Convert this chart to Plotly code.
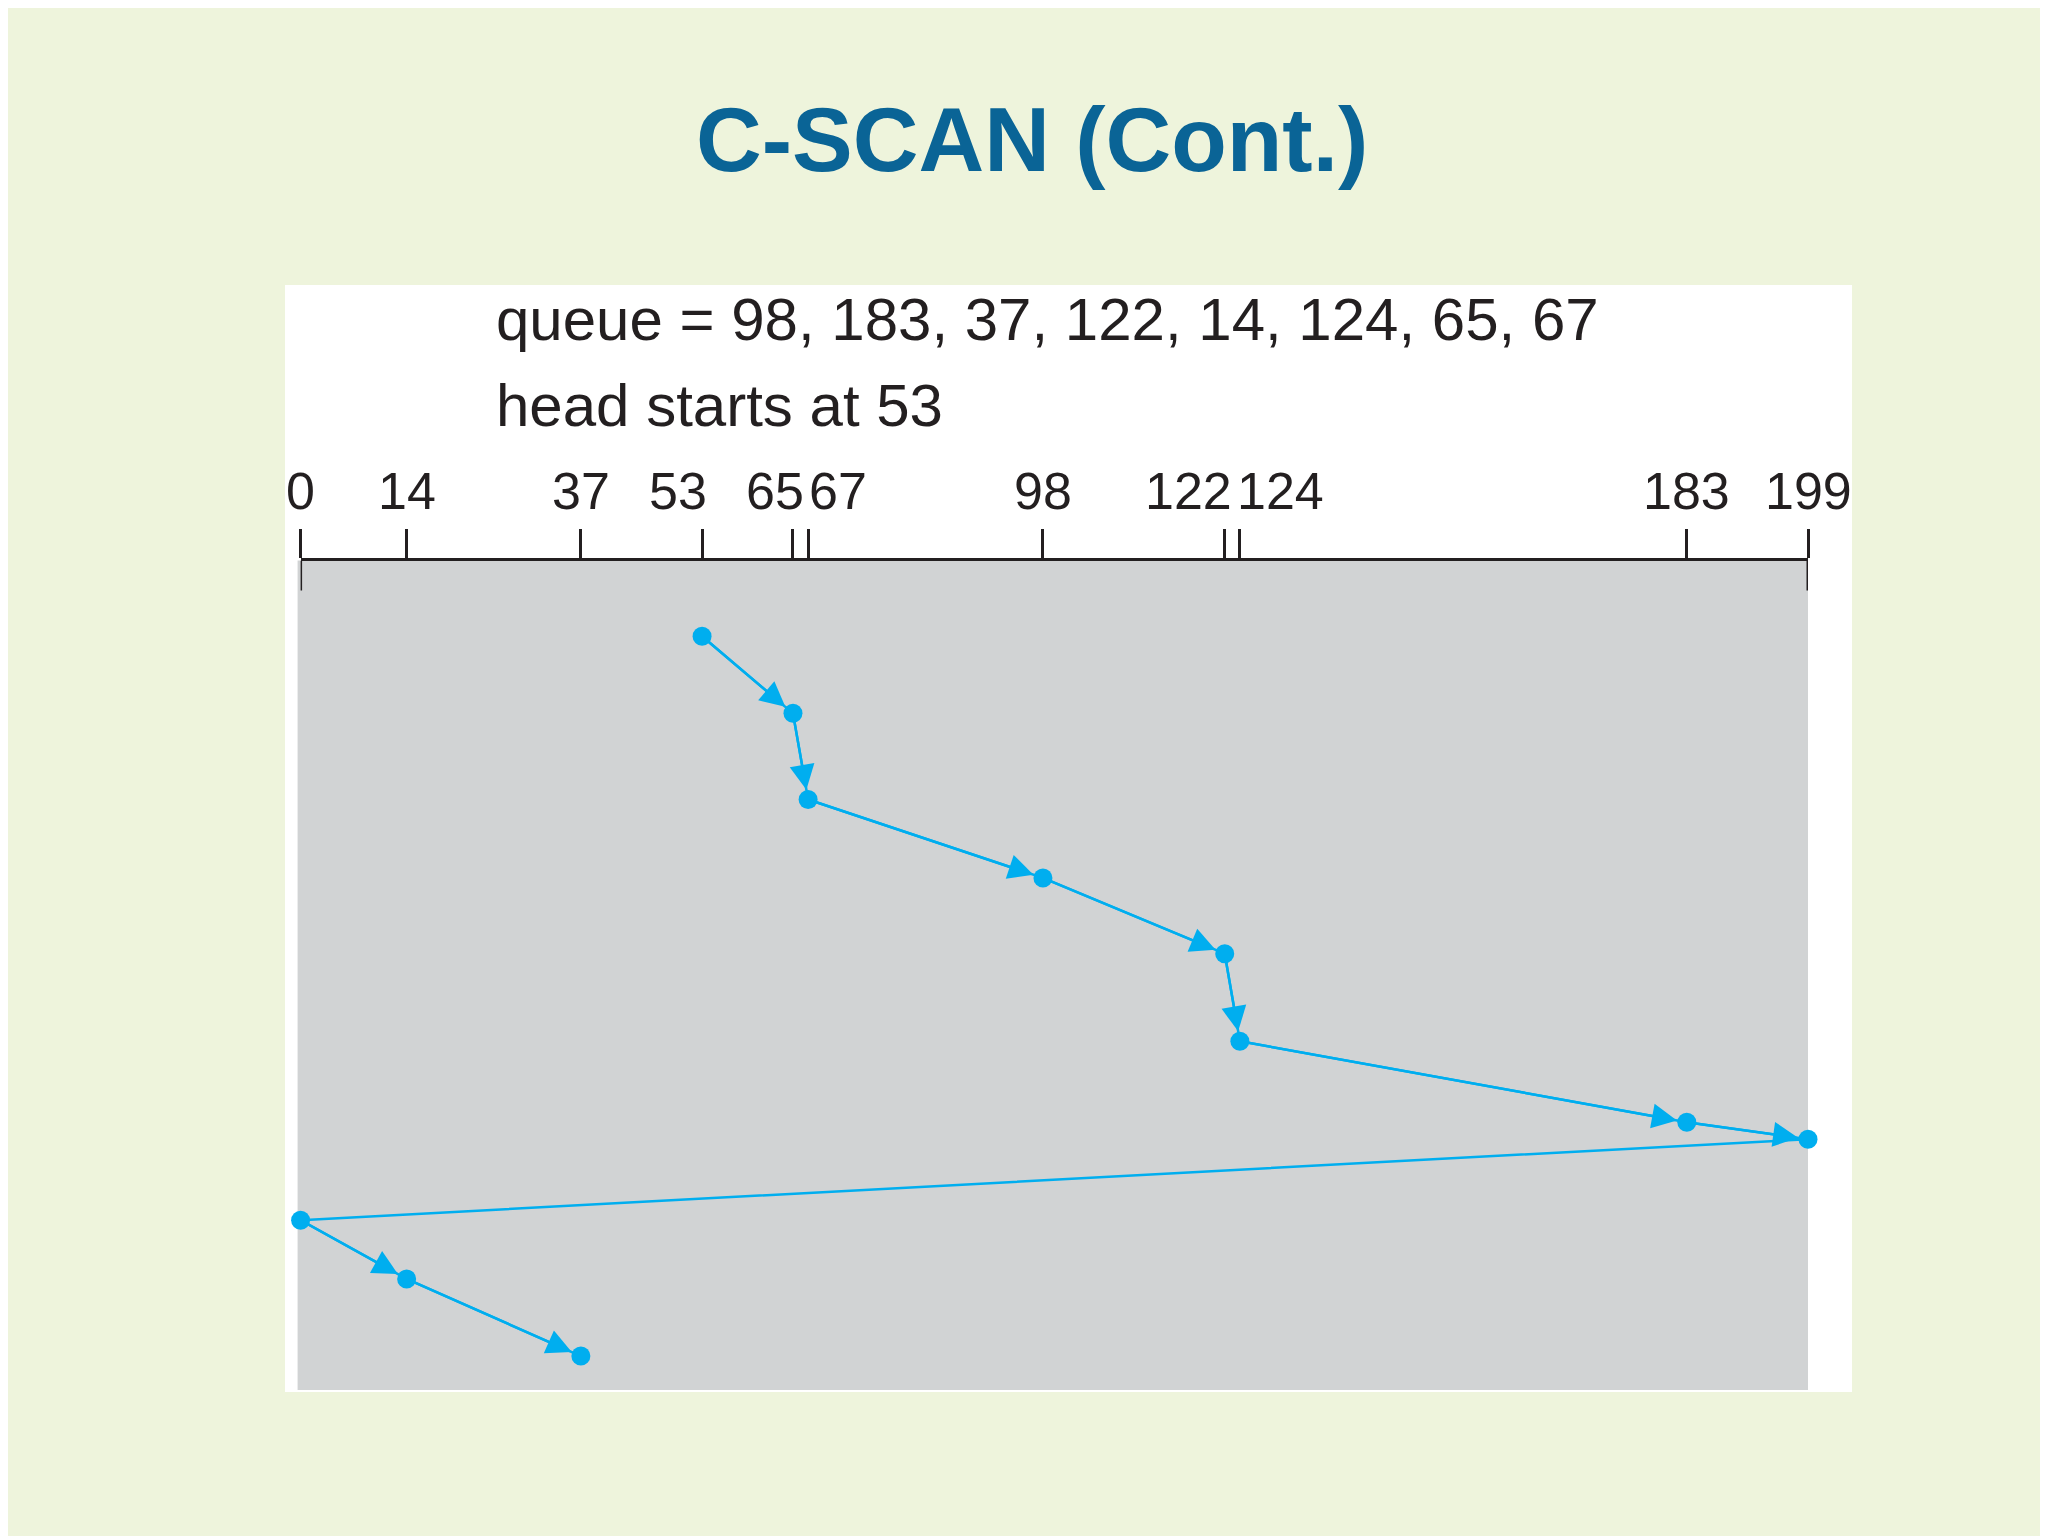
import plotly.graph_objects as go

cylinders = [53, 65, 67, 98, 122, 124, 183, 199, 0, 14, 37]
step_level = [481, 540, 606, 666, 724, 791, 853, 866, 928, 973, 1032]
tick_vals = [0, 14, 37, 53, 65, 67, 98, 122, 124, 183, 199]
tick_text = ["0", "14", "37", "53", "65", "67", "98", "122", "124", "183", "199"]
label_anchor = ["center", "center", "center", "right", "right", "left", "center", "right", "left", "center", "center"]

BLUE = "#00aeef"
INK = "#231f20"
fig = go.Figure()
fig.add_trace(go.Scatter(x=cylinders, y=step_level, mode="lines+markers",
                         line=dict(color=BLUE, width=2.5),
                         marker=dict(color=BLUE, size=19), hoverinfo="skip", cliponaxis=False))

anns = []
for i in range(1, len(cylinders)):
    if cylinders[i - 1] == 199 and cylinders[i] == 0:
        continue
    anns.append(dict(x=cylinders[i], y=step_level[i], ax=cylinders[i - 1], ay=step_level[i - 1],
                     xref="x", yref="y", axref="x", ayref="y", text="", showarrow=True,
                     arrowhead=2, arrowsize=2, arrowwidth=2.5, arrowcolor=BLUE, standoff=10))
shifts = {"53": 6, "65": 12, "67": 0, "122": 8, "124": -4}
for v, t, a in zip(tick_vals, tick_text, label_anchor):
    anns.append(dict(x=v, y=1 - 483 / 1536, xref="x", yref="paper", text=t, showarrow=False,
                     xanchor=a, yanchor="middle", xshift=shifts.get(t, 0), borderpad=0,
                     font=dict(family="Liberation Sans", size=52, color=INK)))
anns.append(dict(text="<b>C-SCAN (Cont.)</b>", x=0.5, y=1 - 131 / 1536, xref="paper", yref="paper",
                 showarrow=False, font=dict(family="Liberation Sans", size=91, color="#0a6496"),
                 xanchor="center", yanchor="middle"))
anns.append(dict(text="queue = 98, 183, 37, 122, 14, 124, 65, 67", x=486 / 2048, y=1 - 311 / 1536,
                 xref="paper", yref="paper", showarrow=False, xanchor="left", yanchor="middle",
                 font=dict(family="Liberation Sans", size=60, color=INK)))
anns.append(dict(text="head starts at 53", x=486 / 2048, y=1 - 398 / 1536,
                 xref="paper", yref="paper", showarrow=False, xanchor="left", yanchor="middle",
                 font=dict(family="Liberation Sans", size=60, color=INK)))

shapes = [dict(type="rect", xref="paper", yref="paper", x0=277 / 2048, x1=1844 / 2048,
               y0=1 - 1384 / 1536, y1=1 - 277 / 1536, fillcolor="white", line=dict(width=0), layer="below"),
          dict(type="rect", xref="x domain", yref="y domain", x0=-0.002, x1=1.0, y0=0, y1=1,
               fillcolor="#d1d3d4", line=dict(width=0), layer="below")]
for v in (0, 199):
    shapes.append(dict(type="line", xref="x", yref="y", x0=v, x1=v, y0=423, y1=446,
                       line=dict(color=INK, width=3)))

fig.update_layout(
    width=2048, height=1536, margin=dict(l=0, r=0, t=0, b=0, autoexpand=False),
    paper_bgcolor="#eef4dc", plot_bgcolor="#d1d3d4", showlegend=False,
    annotations=anns, shapes=shapes,
    xaxis=dict(domain=[292.6 / 2048, 1800 / 2048], range=[0, 199], side="top",
               tickvals=tick_vals, showticklabels=False, ticks="outside", ticklen=29,
               tickwidth=3, tickcolor=INK, showgrid=False, zeroline=False,
               showline=True, linecolor=INK, linewidth=3, automargin=False),
    yaxis=dict(domain=[1 - 1382 / 1536, 1 - 552.5 / 1536], range=[1058, 423],
               visible=False, showgrid=False, zeroline=False, automargin=False),
)
fig.write_html("out.html")
